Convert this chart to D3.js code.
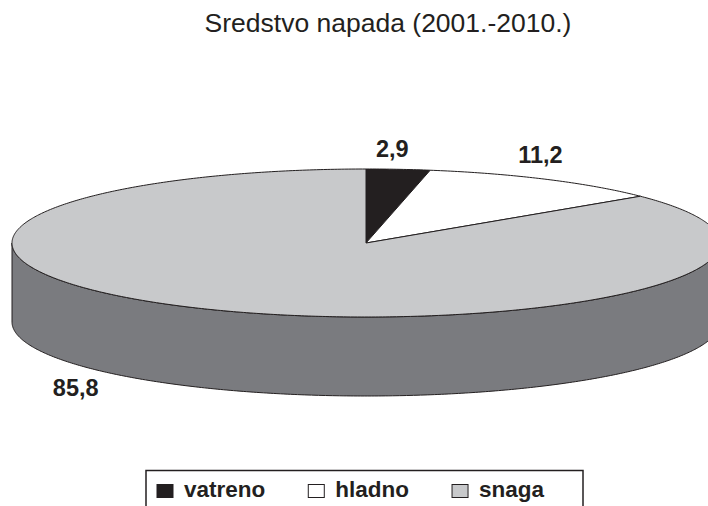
<!DOCTYPE html>
<html>
<head>
<meta charset="utf-8">
<script src="https://cdn.jsdelivr.net/npm/d3@7"></script>
<style>
  html, body { margin: 0; padding: 0; background: #fff; }
  svg { display: block; font-family: "Liberation Sans", Arial, sans-serif; }
</style>
</head>
<body>
<svg id="chart" width="708" height="506"></svg>
<script>
const title = "Sredstvo napada (2001.-2010.)";
const categories = ["vatreno", "hladno", "snaga"];
const values = [2.9, 11.2, 85.8];
const valueLabels = ["2,9", "11,2", "85,8"];
const topColors = ["#231f20", "#ffffff", "#c8c9cb"];
const sideColors = ["#231f20", "#e0e0e0", "#7a7b7f"];

const svg = d3.select("#chart");
const W = 708, H = 506;
const cx = 366, cy = 243, rx = 354, ry = 74, depth = 79;

svg.append("rect").attr("width", W).attr("height", H).attr("fill", "#fff");

svg.append("text")
  .attr("x", 388).attr("y", 32)
  .attr("text-anchor", "middle")
  .attr("font-size", 26.5)
  .attr("fill", "#231f20")
  .text(title);

const data = categories.map((c, i) => ({ name: c, value: values[i], label: valueLabels[i], i }));
const pie = d3.pie().sort(null).value(d => d.value).startAngle(0).endAngle(2 * Math.PI);
const arcs = pie(data);

const pt = (a, dy = 0) => [cx + rx * Math.sin(a), cy - ry * Math.cos(a) + dy];
const sample = (a0, a1, dy = 0) => {
  const n = Math.max(2, Math.ceil(Math.abs(a1 - a0) / 0.01));
  return d3.range(n + 1).map(k => pt(a0 + (a1 - a0) * k / n, dy));
};
const line = d3.line();

const g = svg.append("g");
// side walls (visible front half: angles between PI/2 and 3PI/2)
arcs.forEach(a => {
  const s = Math.max(a.startAngle, Math.PI / 2);
  const e = Math.min(a.endAngle, 3 * Math.PI / 2);
  if (e <= s) return;
  const topPts = sample(s, e, 0);
  const botPts = sample(e, s, depth);
  g.append("path")
    .attr("d", line(topPts.concat(botPts)) + "Z")
    .attr("fill", sideColors[a.data.i])
    .attr("stroke", "#231f20")
    .attr("stroke-width", 1)
    .attr("stroke-linejoin", "round");
});

// top faces
arcs.forEach(a => {
  const pts = [[cx, cy]].concat(sample(a.startAngle, a.endAngle, 0));
  g.append("path")
    .attr("d", line(pts) + "Z")
    .attr("fill", topColors[a.data.i])
    .attr("stroke", "#231f20")
    .attr("stroke-width", 1)
    .attr("stroke-linejoin", "round");
});

// value labels
arcs.forEach(a => {
  const mid = (a.startAngle + a.endAngle) / 2;
  const [px, py] = pt(mid);
  const lower = Math.cos(mid) < 0;
  let x, y;
  if (lower) {
    // Excel placed the big slice label below the left front of the wall
    x = cx - rx * 0.82;
    y = cy + ry + depth;
  } else {
    x = px - 6;
    y = py - 11 - 10 * Math.sin(mid);
  }
  svg.append("text")
    .attr("x", x).attr("y", y)
    .attr("text-anchor", "middle")
    .attr("font-size", 23.5)
    .attr("font-weight", "bold")
    .attr("fill", "#231f20")
    .text(a.data.label);
});

// legend
const lg = svg.append("g");
lg.append("rect")
  .attr("x", 146).attr("y", 470.5)
  .attr("width", 437).attr("height", 60)
  .attr("fill", "#fff").attr("stroke", "#231f20").attr("stroke-width", 1.5);
let lx = 157;
categories.forEach((c, i) => {
  lg.append("rect")
    .attr("x", lx).attr("y", 484.5)
    .attr("width", 16).attr("height", 13)
    .attr("fill", topColors[i]).attr("stroke", "#231f20").attr("stroke-width", 1);
  const t = lg.append("text")
    .attr("x", lx + 27).attr("y", 497)
    .attr("font-size", 22.5)
    .attr("font-weight", "bold")
    .attr("fill", "#231f20")
    .text(c);
  lx = lx + 27 + t.node().getComputedTextLength() + 43;
});
</script>
</body>
</html>
